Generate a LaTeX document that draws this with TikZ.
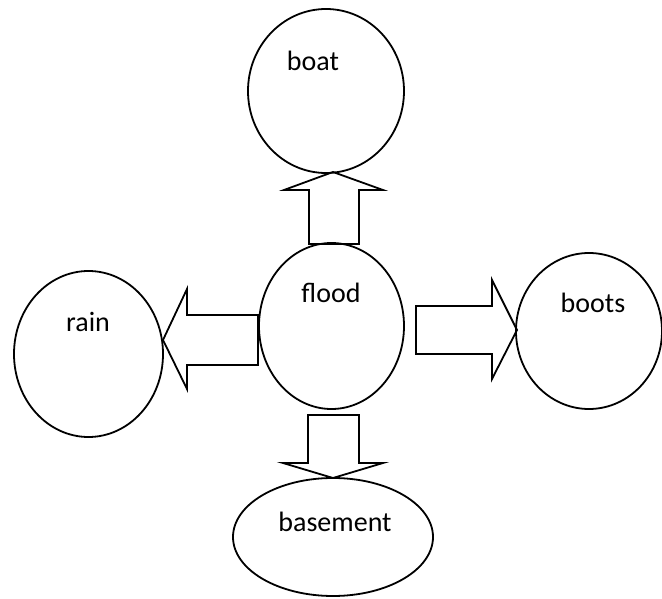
\documentclass[tikz,border=0pt]{standalone}
\usepackage{fontspec}
\setmainfont{Carlito}
\usetikzlibrary{shapes.geometric}
\tikzset{
  idea bubble/.style={draw=black,ellipse,line width=1.8pt,inner sep=0pt,outer sep=0pt},
  idea word/.style={font=\fontsize{28}{32}\selectfont,inner sep=0pt,text=black},
  block arrow/.style={draw=black,line width=1.8pt,line join=miter}
}
\begin{document}
\begin{tikzpicture}[x=1pt,y=-1pt]
  \useasboundingbox (0,0) rectangle (662,599);
  % bubbles
  \node[idea bubble,minimum width=145pt,minimum height=166pt] (flood) at (331.5,326) {};
  \node[idea bubble,minimum width=156pt,minimum height=164pt] (boat) at (326,91) {};
  \node[idea bubble,minimum width=149pt,minimum height=166pt] (rain) at (88.5,354) {};
  \node[idea bubble,minimum width=146pt,minimum height=156pt] (boots) at (589,331) {};
  \node[idea bubble,minimum width=200pt,minimum height=118pt] (basement) at (333,537) {};
  % block arrows from flood
  \draw[block arrow] (309,244) -- (309,190) -- (284,190) -- (333,172) -- (383,190) -- (359,190) -- (359,244) -- cycle;
  \draw[block arrow] (258,315) -- (187,315) -- (187,289) -- (163,340) -- (187,389) -- (187,365) -- (258,365) -- cycle;
  \draw[block arrow] (416,306) -- (492,306) -- (492,280) -- (517,330) -- (492,379) -- (492,354) -- (416,354) -- cycle;
  \draw[block arrow] (308,415) -- (308,463) -- (283,463) -- (333,478) -- (383,463) -- (359,463) -- (359,415) -- cycle;
  % words
  \node[idea word] (boat word) at (313,61) {boat};
  \node[idea word] (flood word) at (331,293) {flood};
  \node[idea word] (rain word) at (88,322) {rain};
  \node[idea word] (boots word) at (593,303) {boots};
  \node[idea word] (basement word) at (335,522) {basement};
\end{tikzpicture}
\end{document}
